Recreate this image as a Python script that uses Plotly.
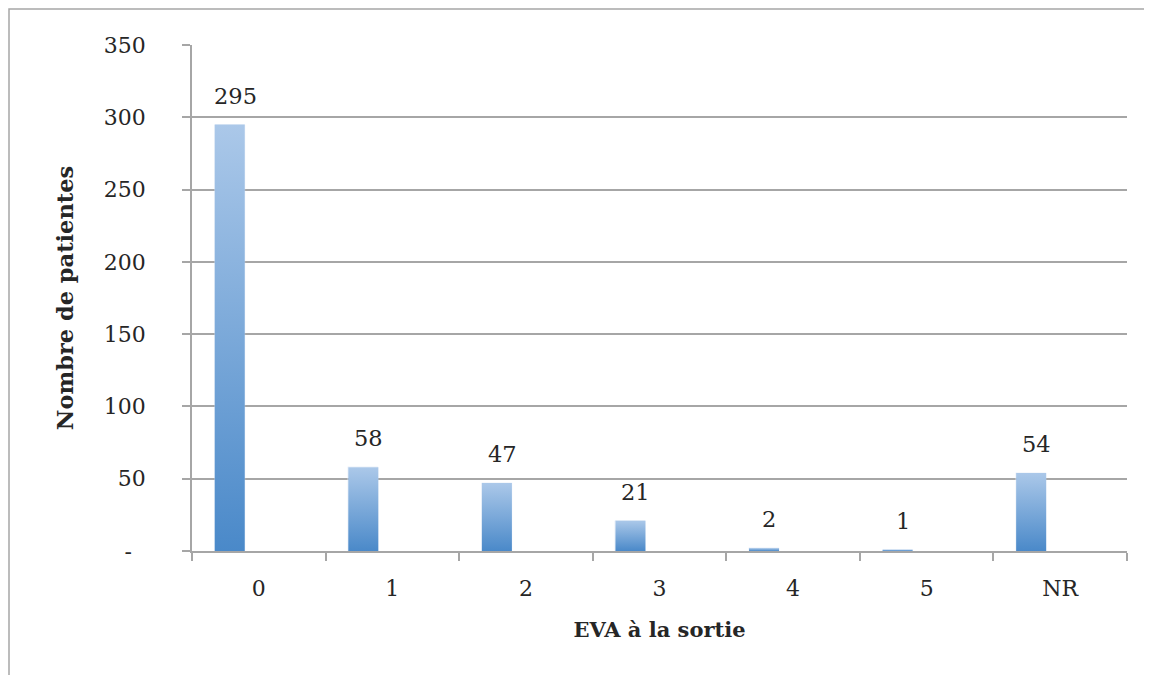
import plotly.graph_objects as go

categories = ["0", "1", "2", "3", "4", "5", "NR"]
values = [295, 58, 47, 21, 2, 1, 54]
y_tickvals = [0, 50, 100, 150, 200, 250, 300, 350]
y_ticktext = ["-\u00a0\u00a0", "50", "100", "150", "200", "250", "300", "350"]

BAR_OFF = -0.33   # bar left edge relative to category centre (category units)
BAR_W = 0.225     # bar width (category units)
GRID = "#a6a6a6"
TXT = "#262626"
FONT = "DejaVu Serif"

# page body has an 8px margin, so the figure is placed at (8, 8)
L, T, R, B = 184, 37, 33, 132
PW = 1152 - L - R
PH = 675 - T - B

fig = go.Figure()

# invisible bar trace so the categorical axis carries the categories
fig.add_trace(go.Bar(
    x=categories, y=values, width=BAR_W, offset=BAR_OFF,
    marker=dict(color="rgba(0,0,0,0)"), hoverinfo="skip", showlegend=False,
))

# gradient-filled bars drawn on an overlaid numeric axis
for i, v in enumerate(values):
    x0 = i + BAR_OFF
    x1 = x0 + BAR_W
    fig.add_trace(go.Scatter(
        x=[x0, x0, x1, x1, x0], y=[0, v, v, 0, 0],
        xaxis="x2", yaxis="y", mode="lines", line=dict(width=0),
        fill="toself",
        fillgradient=dict(type="vertical",
                          colorscale=[[0, "#4a89c9"], [1, "#abc8e9"]]),
        hoverinfo="skip", showlegend=False,
    ))

# value labels
for i, v in enumerate(values):
    fig.add_annotation(
        x=i + BAR_OFF + BAR_W / 2 + 0.04, y=v, xref="x2", yref="y",
        text=str(v), showarrow=False, yanchor="middle", yshift=29,
        font=dict(family=FONT, size=22.5, color=TXT),
    )

fig.update_layout(
    width=1152, height=675,
    margin=dict(l=L, r=R, t=T, b=B),
    paper_bgcolor="white", plot_bgcolor="white",
    font=dict(family=FONT, size=22, color=TXT),
    bargap=0,
    xaxis=dict(
        type="category", categoryorder="array", categoryarray=categories,
        range=[-0.5, len(categories) - 0.5],
        tickson="boundaries", ticks="outside", ticklen=8, tickwidth=1.5,
        tickcolor=GRID, showline=True, linecolor=GRID, linewidth=1.5,
        showgrid=False, ticklabelstandoff=17,
        title=dict(text="<b>EVA à la sortie</b>", font=dict(size=21), standoff=22),
    ),
    xaxis2=dict(
        overlaying="x", range=[-0.5, len(categories) - 0.5], visible=False,
    ),
    yaxis=dict(
        range=[0, 350], tickvals=y_tickvals, ticktext=y_ticktext,
        ticks="outside", ticklen=8, tickwidth=1.5, tickcolor=GRID,
        showline=True, linecolor=GRID, linewidth=1.5,
        showgrid=True, gridcolor=GRID, gridwidth=1.5, zeroline=False,
        ticklabelstandoff=32,
        title=dict(text="<b>Nombre de patientes</b>", font=dict(size=22.5), standoff=24),
    ),
    shapes=[dict(
        type="rect", xref="paper", yref="paper",
        x0=(1 - L) / PW, x1=(1180 - L) / PW,
        y0=(PH - 720 + T) / PH, y1=(PH - 1 + T) / PH,
        line=dict(color="#a6a6a6", width=1.5), fillcolor="rgba(0,0,0,0)",
        layer="below",
    )],
)

fig.write_html("out.html")
